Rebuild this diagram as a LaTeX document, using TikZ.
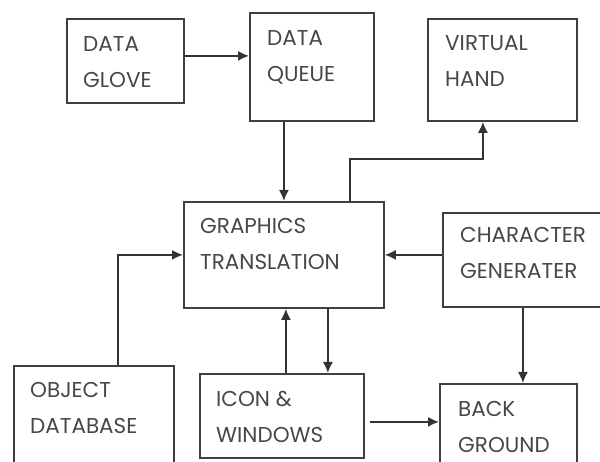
\documentclass[tikz,border=0pt]{standalone}
\usepackage{fontspec}
\setmainfont{Poppins}
\usetikzlibrary{arrows.meta}
\tikzset{
  blk/.style={draw=black!75,line width=1.8pt,rectangle,inner sep=0pt,anchor=north west},
  lbl/.style={anchor=north west,inner sep=0pt,align=left,text=black!72,font=\fontsize{21.5}{36}\selectfont},
  arr/.style={draw=black!80,line width=1.6pt,-{Latex[length=11pt,width=10pt]}}
}
\begin{document}
\begin{tikzpicture}[x=1pt,y=-1pt]
\useasboundingbox (0,0) rectangle (600,462);
\clip (0,0) rectangle (600,462);
% blocks
\node[blk,minimum width=117,minimum height=84] (dg) at (66,18) {};
\node[blk,minimum width=124,minimum height=108] (dq) at (249,12) {};
\node[blk,minimum width=149,minimum height=102] (vh) at (427,18) {};
\node[blk,minimum width=200,minimum height=106] (gt) at (183,201) {};
\node[blk,minimum width=178,minimum height=94] (cg) at (442,212) {};
\node[blk,minimum width=160,minimum height=110] (od) at (13,365) {};
\node[blk,minimum width=164,minimum height=84] (iw) at (199,373) {};
\node[blk,minimum width=137,minimum height=92] (bg) at (439,383) {};
% labels
\node[lbl] (dg-t) at (83,36) {DATA\\GLOVE};
\node[lbl] (dq-t) at (267,30) {DATA\\QUEUE};
\node[lbl] (vh-t) at (445,35) {VIRTUAL\\HAND};
\node[lbl] (gt-t) at (200,218) {GRAPHICS\\TRANSLATION};
\node[lbl] (cg-t) at (460,227) {CHARACTER\\GENERATER};
\node[lbl] (od-t) at (30,382) {OBJECT\\DATABASE};
\node[lbl] (iw-t) at (216,391) {ICON \&\\WINDOWS};
\node[lbl] (bg-t) at (458,401) {BACK\\GROUND};
% arrows
\draw[arr] ([yshift=5pt]dg.east) -- ([yshift=5pt]dg.east -| dq.west);
\draw[arr] (gt.north |- dq.south) -- (gt.north);
\draw[arr] ([xshift=66pt]gt.north) -- ++(0,-42) -| ([xshift=-19.5pt]vh.south);
\draw[arr] (cg.west |- gt.east) -- (gt.east);
\draw[arr] ([xshift=24pt]od.north) |- (gt.west);
\draw[arr] ([xshift=4pt]iw.north) -- ([xshift=4pt]iw.north |- gt.south);
\draw[arr] ([xshift=44pt]gt.south) -- ([xshift=44pt]gt.south |- iw.north);
\draw[arr,shorten <=5pt] ([yshift=-6pt]iw.east) -- ([yshift=-6pt]iw.east -| bg.west);
\draw[arr] ([xshift=14.5pt]bg.north |- cg.south) -- ([xshift=14.5pt]bg.north);
\end{tikzpicture}
\end{document}
